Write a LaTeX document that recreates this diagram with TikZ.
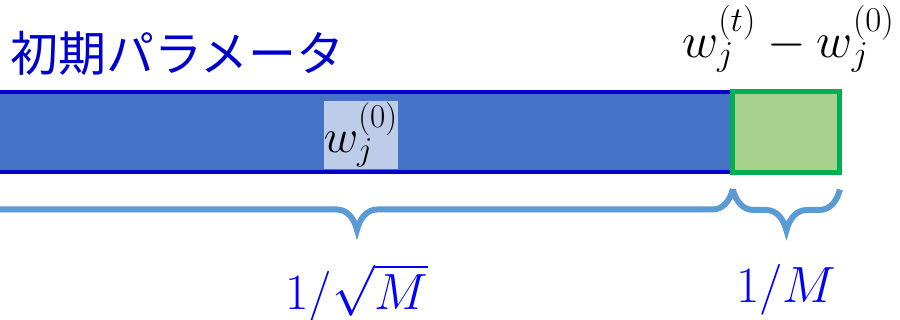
\RequirePackage{fix-cm}
\documentclass[tikz,border=0pt]{standalone}
\usepackage{fontspec}
\newfontfamily\jpfont{Noto Sans CJK JP}
\usetikzlibrary{positioning, calc, decorations.pathreplacing}
\definecolor{barblue}{RGB}{68, 114, 196}
\definecolor{edgeblue}{RGB}{0, 0, 204}
\definecolor{deltagreen}{RGB}{169, 209, 142}
\definecolor{edgegreen}{RGB}{0, 176, 80}
\definecolor{lblbg}{RGB}{189, 204, 233}
\definecolor{bracecol}{RGB}{91, 155, 213}

\begin{document}
\begin{tikzpicture}[
    x=0.02cm, y=-0.02cm,
    barbox/.style={rectangle, draw=edgeblue, fill=barblue, line width=2.3pt, inner sep=0pt, outer sep=0pt},
    deltabox/.style={rectangle, draw=edgegreen, fill=deltagreen, line width=2.8pt, inner sep=0pt, outer sep=0pt, minimum width=2.14cm, minimum height=1.62cm},
    mathlbl/.style={font=\fontsize{27}{32}\selectfont, inner sep=0pt},
    sizelbl/.style={font=\fontsize{29}{34}\selectfont, text=blue, inner sep=0pt, anchor=base},
    widthbrace/.style={decorate, decoration={brace, amplitude=0.41cm, transform={yscale=2}}, draw=bracecol, line width=3.4pt}
]
    % Frame
    \useasboundingbox (0, 0) rectangle (900, 320);
    \clip (0, 0) rectangle (900, 320);

    % Title
    \node[font=\jpfont\fontsize{27.3}{31}\selectfont, text=edgeblue, inner sep=0pt, anchor=base west] (title) at (10, 72) {初期パラメータ};

    % Initial parameters and the update
    \node[barbox, minimum width=15.04cm, minimum height=1.6cm] (bar) at (357, 132) {};
    \node[deltabox, right=0pt of bar] (delta) {};
    \node[mathlbl, fill=lblbg, inner ysep=1pt] (w0lbl) at ([xshift=0.08cm, yshift=-0.06cm]bar.center) {$w_j^{(0)}$};
    \node[mathlbl, font=\fontsize{28.3}{33}\selectfont, anchor=base] (dlbl) at ([xshift=0.04cm, yshift=0.69cm]delta.north) {$w_j^{(t)} - w_j^{(0)}$};

    % Braces and sizes
    \draw[widthbrace] ([yshift=-0.34cm]bar.south east) -- ([yshift=-0.34cm]bar.south west);
    \draw[widthbrace] ([yshift=-0.34cm]delta.south east) -- ([yshift=-0.34cm]delta.south west);
    \node[sizelbl] (sqrtlbl) at ([yshift=-2.76cm]bar.south) {$1/\sqrt{M}$};
    \node[sizelbl] (mlbl) at ([yshift=-2.61cm]delta.south) {$1/M$};
\end{tikzpicture}
\end{document}
